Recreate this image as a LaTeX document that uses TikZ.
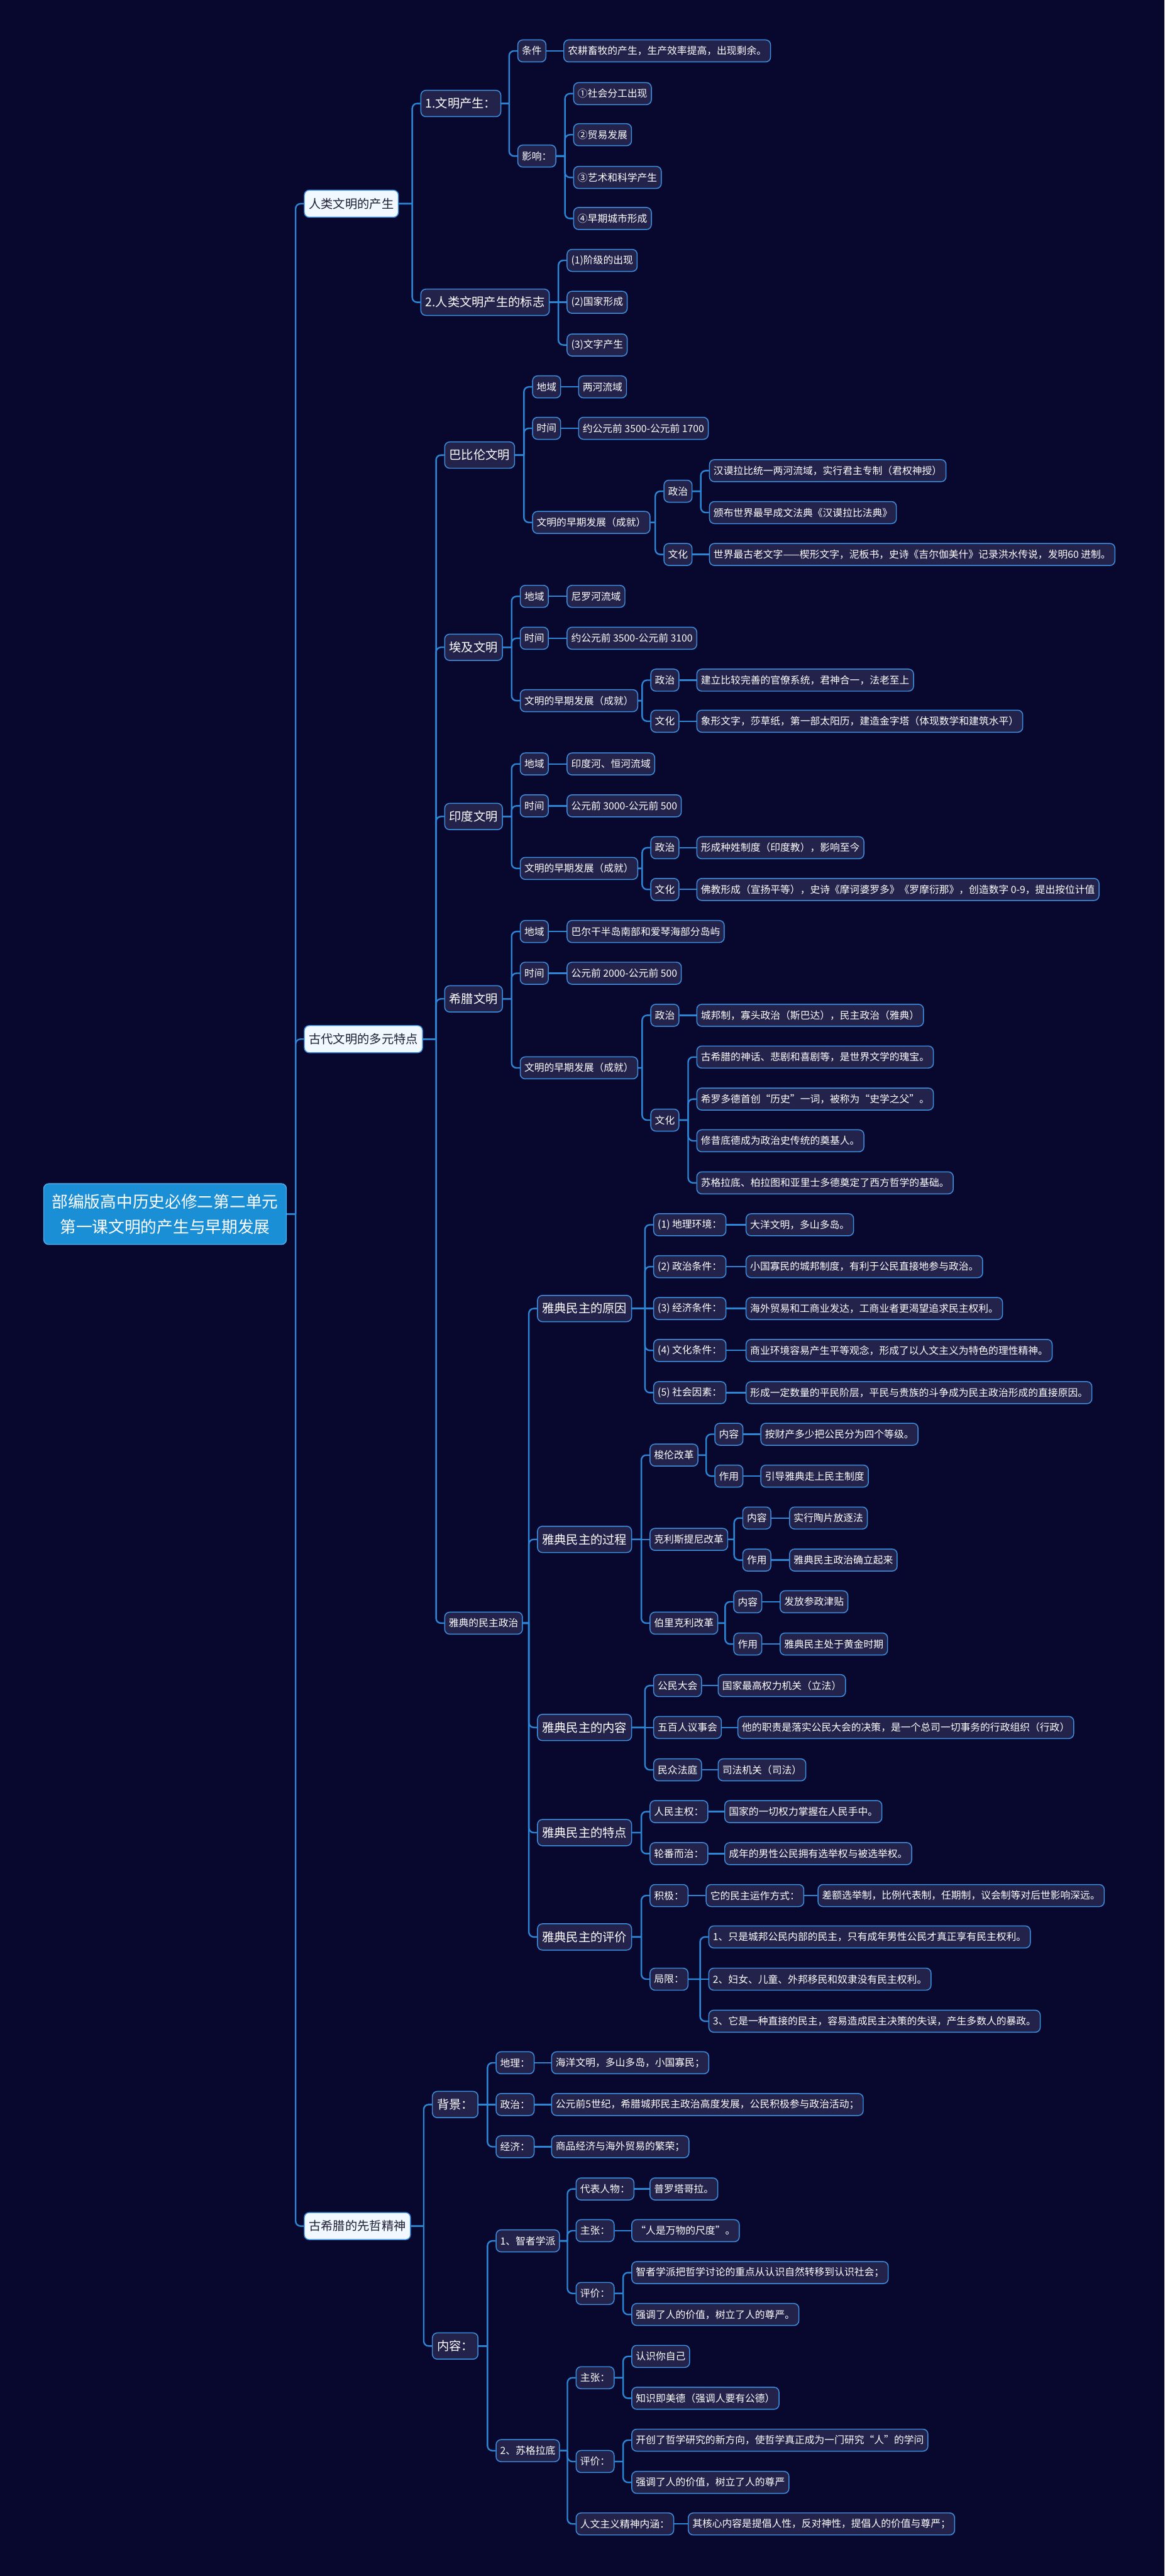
\documentclass[tikz,border=0pt]{standalone}
\usepackage{fontspec}
\setmainfont{Noto Sans CJK SC}
\usetikzlibrary{positioning}
\definecolor{bgnavy}{RGB}{8,7,45}
\definecolor{boxfill}{RGB}{35,34,74}
\definecolor{boxline}{RGB}{58,144,226}
\definecolor{linkblue}{RGB}{44,134,214}
\definecolor{topicfill}{RGB}{242,248,255}
\definecolor{topictext}{RGB}{30,30,52}
\definecolor{rootfill}{RGB}{26,143,214}
\definecolor{rootline}{RGB}{80,176,240}
\newcommand{\linkto}[2]{\draw[link] (#1.east) -- ([xshift=-5mm]#2.west |- #1.east)
  ([xshift=-5mm]#2.west |- #1.east) [rounded corners=3mm] |- (#2.west);}
\newcommand{\leafto}[2]{\draw[link] (#1.east) -- (#2.west);}

\begin{document}
\begin{tikzpicture}[
    x=1mm, y=-1mm,
    box/.style={draw=boxline, line width=1.6pt, rounded corners=3mm, fill=boxfill, text=white, inner xsep=2.5mm, inner ysep=0pt, anchor=west},
    itembox/.style={box, minimum height=13.4mm, font=\fontsize{17.2pt}{20pt}\selectfont},
    bigbox/.style={box, inner xsep=2.8mm, minimum height=16mm, font=\fontsize{21pt}{25pt}\selectfont},
    topicbox/.style={bigbox, fill=topicfill, text=topictext, minimum height=16.5mm},
    rootbox/.style={draw=rootline, line width=1.5pt, rounded corners=3mm, fill=rootfill, text=white, align=center, inner xsep=5mm, minimum height=37mm, font=\fontsize{28pt}{44pt}\selectfont},
    link/.style={draw=linkblue, line width=2.6pt}
  ]
  \fill[bgnavy] (0,0) rectangle (709,1568);
  \useasboundingbox (0,0) rectangle (709,1568);

  \node[rootbox] (root) at (100.5,739) {部编版高中历史必修二第二单元\\第一课文明的产生与早期发展};
  \node[topicbox] (birth) at (185,124) {人类文明的产生};
  \node[topicbox] (multi) at (185,632.5) {古代文明的多元特点};
  \node[topicbox] (sage) at (185,1355) {古希腊的先哲精神};

  \node[bigbox] (rise) at (256,63) {1.文明产生：};
  \node[bigbox] (mark) at (256,184) {2.人类文明产生的标志};
  \node[itembox] (cond) at (315,31) {条件};
  \node[itembox] (cond1) at (343,31) {农耕畜牧的产生，生产效率提高，出现剩余。};
  \node[itembox] (eff) at (315,95) {影响：};
  \node[itembox] (eff1) at (349,57) {①社会分工出现};
  \node[itembox] (eff2) at (349,82) {②贸易发展};
  \node[itembox] (eff3) at (349,108) {③艺术和科学产生};
  \node[itembox] (eff4) at (349,133) {④早期城市形成};
  \node[itembox] (mark1) at (345,158.5) {(1)阶级的出现};
  \node[itembox] (mark2) at (345,184) {(2)国家形成};
  \node[itembox] (mark3) at (345,210) {(3)文字产生};

  \node[bigbox] (babel) at (270.5,277) {巴比伦文明};
  \node[bigbox] (egypt) at (270.5,394) {埃及文明};
  \node[bigbox] (india) at (270.5,497) {印度文明};
  \node[bigbox] (greece) at (270.5,608) {希腊文明};
  \node[itembox] (athens) at (270.5,988) {雅典的民主政治};

  \node[itembox] (babR) at (324,235.5) {地域};
  \node[itembox] (babRv) at (352,235.5) {两河流域};
  \node[itembox] (babT) at (324,260.7) {时间};
  \node[itembox] (babTv) at (352,260.7) {约公元前 3500-公元前 1700};
  \node[itembox] (babD) at (324,318) {文明的早期发展（成就）};
  \node[itembox] (babP) at (404,299) {政治};
  \node[itembox] (babP1) at (431.7,286.5) {汉谟拉比统一两河流域，实行君主专制（君权神授）};
  \node[itembox] (babP2) at (431.7,312) {颁布世界最早成文法典《汉谟拉比法典》};
  \node[itembox] (babC) at (404,337.5) {文化};
  \node[itembox] (babC1) at (431.7,337.5) {世界最古老文字——楔形文字，泥板书，史诗《吉尔伽美什》记录洪水传说，发明60 进制。};

  \node[itembox] (egyR) at (316.5,363) {地域};
  \node[itembox] (egyRv) at (345,363) {尼罗河流域};
  \node[itembox] (egyT) at (316.5,388.5) {时间};
  \node[itembox] (egyTv) at (345,388.5) {约公元前 3500-公元前 3100};
  \node[itembox] (egyD) at (316.5,426.5) {文明的早期发展（成就）};
  \node[itembox] (egyP) at (396,414) {政治};
  \node[itembox] (egyP1) at (424,414) {建立比较完善的官僚系统，君神合一，法老至上};
  \node[itembox] (egyC) at (396,439) {文化};
  \node[itembox] (egyC1) at (424,439) {象形文字，莎草纸，第一部太阳历，建造金字塔（体现数学和建筑水平）};

  \node[itembox] (indR) at (316.5,465) {地域};
  \node[itembox] (indRv) at (345,465) {印度河、恒河流域};
  \node[itembox] (indT) at (316.5,490.5) {时间};
  \node[itembox] (indTv) at (345,490.5) {公元前 3000-公元前 500};
  \node[itembox] (indD) at (316.5,528.6) {文明的早期发展（成就）};
  \node[itembox] (indP) at (396,516) {政治};
  \node[itembox] (indP1) at (424,516) {形成种姓制度（印度教），影响至今};
  \node[itembox] (indC) at (396,541.4) {文化};
  \node[itembox] (indC1) at (424,541.4) {佛教形成（宣扬平等），史诗《摩诃婆罗多》《罗摩衍那》，创造数字 0-9，提出按位计值};

  \node[itembox] (greR) at (316.5,567) {地域};
  \node[itembox] (greRv) at (345,567) {巴尔干半岛南部和爱琴海部分岛屿};
  \node[itembox] (greT) at (316.5,592.4) {时间};
  \node[itembox] (greTv) at (345,592.4) {公元前 2000-公元前 500};
  \node[itembox] (greD) at (316.5,650) {文明的早期发展（成就）};
  \node[itembox] (greP) at (396,618) {政治};
  \node[itembox] (greP1) at (424,618) {城邦制，寡头政治（斯巴达），民主政治（雅典）};
  \node[itembox] (greC) at (396,681.8) {文化};
  \node[itembox] (greC1) at (424,643.4) {古希腊的神话、悲剧和喜剧等，是世界文学的瑰宝。};
  \node[itembox] (greC2) at (424,669) {希罗多德首创“历史”一词，被称为“史学之父”。};
  \node[itembox] (greC3) at (424,694.4) {修昔底德成为政治史传统的奠基人。};
  \node[itembox] (greC4) at (424,720) {苏格拉底、柏拉图和亚里士多德奠定了西方哲学的基础。};

  \node[bigbox] (cause) at (327,796.5) {雅典民主的原因};
  \node[itembox] (cause1) at (397.7,745.5) {(1) 地理环境：};
  \node[itembox] (cause1v) at (454,745.5) {大洋文明，多山多岛。};
  \node[itembox] (cause2) at (397.7,771) {(2) 政治条件：};
  \node[itembox] (cause2v) at (454,771) {小国寡民的城邦制度，有利于公民直接地参与政治。};
  \node[itembox] (cause3) at (397.7,796.5) {(3) 经济条件：};
  \node[itembox] (cause3v) at (454,796.5) {海外贸易和工商业发达，工商业者更渴望追求民主权利。};
  \node[itembox] (cause4) at (397.7,822) {(4) 文化条件：};
  \node[itembox] (cause4v) at (454,822) {商业环境容易产生平等观念，形成了以人文主义为特色的理性精神。};
  \node[itembox] (cause5) at (397.7,847.7) {(5) 社会因素：};
  \node[itembox] (cause5v) at (454,847.7) {形成一定数量的平民阶层，平民与贵族的斗争成为民主政治形成的直接原因。};

  \node[bigbox] (proc) at (327,937) {雅典民主的过程};
  \node[itembox] (solon) at (395.5,885.7) {梭伦改革};
  \node[itembox] (solonA) at (435,873) {内容};
  \node[itembox] (solonAv) at (463,873) {按财产多少把公民分为四个等级。};
  \node[itembox] (solonB) at (435,898.5) {作用};
  \node[itembox] (solonBv) at (463,898.5) {引导雅典走上民主制度};
  \node[itembox] (clei) at (395.5,937) {克利斯提尼改革};
  \node[itembox] (cleiA) at (452,924) {内容};
  \node[itembox] (cleiAv) at (480.5,924) {实行陶片放逐法};
  \node[itembox] (cleiB) at (452,949.6) {作用};
  \node[itembox] (cleiBv) at (480.5,949.6) {雅典民主政治确立起来};
  \node[itembox] (peri) at (395.5,988) {伯里克利改革};
  \node[itembox] (periA) at (446.5,975) {内容};
  \node[itembox] (periAv) at (474.7,975) {发放参政津贴};
  \node[itembox] (periB) at (446.5,1000.7) {作用};
  \node[itembox] (periBv) at (474.7,1000.7) {雅典民主处于黄金时期};

  \node[bigbox] (cont) at (327,1051.5) {雅典民主的内容};
  \node[itembox] (assem) at (397.7,1026) {公民大会};
  \node[itembox] (assemv) at (437,1026) {国家最高权力机关（立法）};
  \node[itembox] (counc) at (397.7,1051.5) {五百人议事会};
  \node[itembox] (councv) at (449,1051.5) {他的职责是落实公民大会的决策，是一个总司一切事务的行政组织（行政）};
  \node[itembox] (court) at (397.7,1077.3) {民众法庭};
  \node[itembox] (courtv) at (437,1077.3) {司法机关（司法）};

  \node[bigbox] (feat) at (327,1115.5) {雅典民主的特点};
  \node[itembox] (feat1) at (395.5,1102.7) {人民主权：};
  \node[itembox] (feat1v) at (441,1102.7) {国家的一切权力掌握在人民手中。};
  \node[itembox] (feat2) at (395.5,1128.3) {轮番而治：};
  \node[itembox] (feat2v) at (441,1128.3) {成年的男性公民拥有选举权与被选举权。};

  \node[bigbox] (eval) at (327,1179) {雅典民主的评价};
  \node[itembox] (pos) at (395.5,1153.8) {积极：};
  \node[itembox] (posA) at (429.7,1153.8) {它的民主运作方式：};
  \node[itembox] (posB) at (497.8,1153.8) {差额选举制，比例代表制，任期制，议会制等对后世影响深远。};
  \node[itembox] (lim) at (395.5,1204.7) {局限：};
  \node[itembox] (lim1) at (431.3,1179) {1、只是城邦公民内部的民主，只有成年男性公民才真正享有民主权利。};
  \node[itembox] (lim2) at (431.3,1204.7) {2、妇女、儿童、外邦移民和奴隶没有民主权利。};
  \node[itembox] (lim3) at (431.3,1230.3) {3、它是一种直接的民主，容易造成民主决策的失误，产生多数人的暴政。};

  \node[bigbox] (back) at (263,1281) {背景：};
  \node[itembox] (back1) at (301.8,1255.6) {地理：};
  \node[itembox] (back1v) at (335.6,1255.6) {海洋文明，多山多岛，小国寡民；};
  \node[itembox] (back2) at (301.8,1281) {政治：};
  \node[itembox] (back2v) at (335.6,1281) {公元前5世纪，希腊城邦民主政治高度发展，公民积极参与政治活动；};
  \node[itembox] (back3) at (301.8,1306.7) {经济：};
  \node[itembox] (back3v) at (335.6,1306.7) {商品经济与海外贸易的繁荣；};

  \node[bigbox] (cnt) at (263,1428) {内容：};
  \node[itembox] (soph) at (301.8,1364) {1、智者学派};
  \node[itembox] (sophA) at (350.5,1332.4) {代表人物：};
  \node[itembox] (sophAv) at (395.5,1332.4) {普罗塔哥拉。};
  \node[itembox] (sophB) at (350.5,1357.8) {主张：};
  \node[itembox] (sophBv) at (384.4,1357.8) {“人是万物的尺度”。};
  \node[itembox] (sophC) at (350.5,1396) {评价：};
  \node[itembox] (sophC1) at (384.4,1383.3) {智者学派把哲学讨论的重点从认识自然转移到认识社会；};
  \node[itembox] (sophC2) at (384.4,1408.8) {强调了人的价值，树立了人的尊严。};
  \node[itembox] (socr) at (301.8,1491.7) {2、苏格拉底};
  \node[itembox] (socrA) at (350.5,1447.3) {主张：};
  \node[itembox] (socrA1) at (384.4,1434.3) {认识你自己};
  \node[itembox] (socrA2) at (384.4,1459.8) {知识即美德（强调人要有公德）};
  \node[itembox] (socrB) at (350.5,1498.3) {评价：};
  \node[itembox] (socrB1) at (384.4,1485.3) {开创了哲学研究的新方向，使哲学真正成为一门研究“人”的学问};
  \node[itembox] (socrB2) at (384.4,1511) {强调了人的价值，树立了人的尊严};
  \node[itembox] (socrC) at (350.5,1536.3) {人文主义精神内涵：};
  \node[itembox] (socrCv) at (418.8,1536.3) {其核心内容是提倡人性，反对神性，提倡人的价值与尊严；};

  \linkto{root}{birth} \linkto{root}{multi} \linkto{root}{sage}
  \linkto{birth}{rise} \linkto{birth}{mark}
  \linkto{rise}{cond} \linkto{rise}{eff} \leafto{cond}{cond1}
  \linkto{eff}{eff1} \linkto{eff}{eff2} \linkto{eff}{eff3} \linkto{eff}{eff4}
  \linkto{mark}{mark1} \leafto{mark}{mark2} \linkto{mark}{mark3}

  \linkto{multi}{babel} \linkto{multi}{egypt} \linkto{multi}{india} \linkto{multi}{greece} \linkto{multi}{athens}
  \linkto{babel}{babR} \linkto{babel}{babT} \linkto{babel}{babD}
  \leafto{babR}{babRv} \leafto{babT}{babTv}
  \linkto{babD}{babP} \linkto{babD}{babC}
  \linkto{babP}{babP1} \linkto{babP}{babP2} \leafto{babC}{babC1}
  \linkto{egypt}{egyR} \linkto{egypt}{egyT} \linkto{egypt}{egyD}
  \leafto{egyR}{egyRv} \leafto{egyT}{egyTv}
  \linkto{egyD}{egyP} \linkto{egyD}{egyC}
  \leafto{egyP}{egyP1} \leafto{egyC}{egyC1}
  \linkto{india}{indR} \linkto{india}{indT} \linkto{india}{indD}
  \leafto{indR}{indRv} \leafto{indT}{indTv}
  \linkto{indD}{indP} \linkto{indD}{indC}
  \leafto{indP}{indP1} \leafto{indC}{indC1}
  \linkto{greece}{greR} \linkto{greece}{greT} \linkto{greece}{greD}
  \leafto{greR}{greRv} \leafto{greT}{greTv}
  \linkto{greD}{greP} \linkto{greD}{greC}
  \leafto{greP}{greP1}
  \linkto{greC}{greC1} \linkto{greC}{greC2} \linkto{greC}{greC3} \linkto{greC}{greC4}

  \linkto{athens}{cause} \linkto{athens}{proc} \linkto{athens}{cont} \linkto{athens}{feat} \linkto{athens}{eval}
  \linkto{cause}{cause1} \linkto{cause}{cause2} \leafto{cause}{cause3} \linkto{cause}{cause4} \linkto{cause}{cause5}
  \leafto{cause1}{cause1v} \leafto{cause2}{cause2v} \leafto{cause3}{cause3v} \leafto{cause4}{cause4v} \leafto{cause5}{cause5v}
  \linkto{proc}{solon} \leafto{proc}{clei} \linkto{proc}{peri}
  \linkto{solon}{solonA} \linkto{solon}{solonB} \leafto{solonA}{solonAv} \leafto{solonB}{solonBv}
  \linkto{clei}{cleiA} \linkto{clei}{cleiB} \leafto{cleiA}{cleiAv} \leafto{cleiB}{cleiBv}
  \linkto{peri}{periA} \linkto{peri}{periB} \leafto{periA}{periAv} \leafto{periB}{periBv}
  \linkto{cont}{assem} \leafto{cont}{counc} \linkto{cont}{court}
  \leafto{assem}{assemv} \leafto{counc}{councv} \leafto{court}{courtv}
  \linkto{feat}{feat1} \linkto{feat}{feat2} \leafto{feat1}{feat1v} \leafto{feat2}{feat2v}
  \linkto{eval}{pos} \linkto{eval}{lim} \leafto{pos}{posA} \leafto{posA}{posB}
  \linkto{lim}{lim1} \leafto{lim}{lim2} \linkto{lim}{lim3}

  \linkto{sage}{back} \linkto{sage}{cnt}
  \linkto{back}{back1} \leafto{back}{back2} \linkto{back}{back3}
  \leafto{back1}{back1v} \leafto{back2}{back2v} \leafto{back3}{back3v}
  \linkto{cnt}{soph} \linkto{cnt}{socr}
  \linkto{soph}{sophA} \linkto{soph}{sophB} \linkto{soph}{sophC}
  \leafto{sophA}{sophAv} \leafto{sophB}{sophBv}
  \linkto{sophC}{sophC1} \linkto{sophC}{sophC2}
  \linkto{socr}{socrA} \linkto{socr}{socrB} \linkto{socr}{socrC}
  \linkto{socrA}{socrA1} \linkto{socrA}{socrA2}
  \linkto{socrB}{socrB1} \linkto{socrB}{socrB2} \leafto{socrC}{socrCv}
\end{tikzpicture}
\end{document}
